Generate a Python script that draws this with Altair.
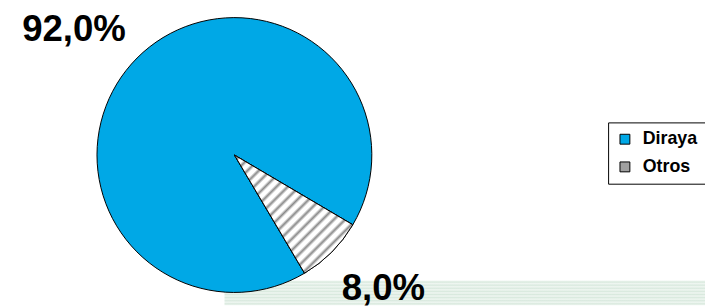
import math
import altair as alt
import pandas as pd

categories = ["Diraya", "Otros"]
values = [92.0, 8.0]
labels = ["92,0%", "8,0%"]

df = pd.DataFrame({"category": categories, "value": values, "label": labels})

start = math.radians(120.5)
theta_scale = alt.Scale(range=[start, start + 2 * math.pi])

# striped fill for "Otros"
N = 21
stops = []
for i in range(N):
    b = i / N
    stops += [
        alt.GradientStop(offset=b, color="#ffffff"),
        alt.GradientStop(offset=b + 0.25 / N, color="#ffffff"),
        alt.GradientStop(offset=b + 0.55 / N, color="#8a8a8a"),
        alt.GradientStop(offset=b + 0.85 / N, color="#ffffff"),
    ]
stops.append(alt.GradientStop(offset=1, color="#ffffff"))
stripe = alt.LinearGradient(gradient="linear", stops=stops, x1=0, y1=0, x2=1, y2=1)

# pale green decorative band
M = 8
bstops = []
for i in range(M):
    b = i / M
    bstops += [
        alt.GradientStop(offset=b, color="#f0f7f2"),
        alt.GradientStop(offset=b + 0.5 / M, color="#d9e9de"),
    ]
bstops.append(alt.GradientStop(offset=1, color="#f0f7f2"))
band_grad = alt.LinearGradient(gradient="linear", stops=bstops, x1=0, y1=0, x2=0, y2=1)

band = alt.Chart(alt.Data(values=[{}])).mark_rect(fill=band_grad).encode(
    x=alt.value(219), x2=alt.value(705), y=alt.value(274), y2=alt.value(299)
)

base = alt.Chart(df).encode(
    theta=alt.Theta("value:Q", stack=True, scale=theta_scale),
    order=alt.Order("category:N", sort="descending"),
)

CX, CY, R = 229, 147, 139

pie = base.mark_arc(radius=R, stroke="black", strokeWidth=1).encode(
    x=alt.value(CX), y=alt.value(CY),
    fill=alt.Fill(
        "category:N",
        scale=alt.Scale(domain=categories, range=["#00A8E6", "#a0a0a0"]),
        legend=alt.Legend(title=None),
    ),
)

hatch = base.mark_arc(radius=R, stroke="black", strokeWidth=1, fill=stripe).encode(
    x=alt.value(CX), y=alt.value(CY),
    opacity=alt.condition(alt.datum.category == "Otros", alt.value(1), alt.value(0)),
)

txt_font = dict(font="Liberation Sans", fontWeight="bold", fontSize=37, color="black")

lab_big = base.mark_text(radius=205, dx=-17, dy=18, **txt_font).encode(
    x=alt.value(CX), y=alt.value(CY), text="label:N",
    opacity=alt.condition(alt.datum.category == "Diraya", alt.value(1), alt.value(0)),
)
lab_small = base.mark_text(radius=200, dx=9, dy=-6, **txt_font).encode(
    x=alt.value(CX), y=alt.value(CY), text="label:N",
    opacity=alt.condition(alt.datum.category == "Otros", alt.value(1), alt.value(0)),
)

chart = (
    alt.layer(band, pie, hatch, lab_big, lab_small)
    .properties(width=705, height=299, autosize=alt.AutoSizeParams(type="none"), padding=0)
    .configure_view(stroke=None)
    .configure_legend(
        orient="none",
        legendX=607,
        legendY=114,
        strokeColor="black",
        fillColor="white",
        padding=8,
        symbolType="square",
        symbolSize=100,
        symbolStrokeColor="black",
        symbolStrokeWidth=1,
        labelFont="Liberation Sans",
        labelFontWeight="bold",
        labelFontSize=18,
        labelColor="black",
        labelOffset=9,
        rowPadding=10,
    )
)

chart.save("out.html", embed_options={"renderer": "svg", "actions": False})
